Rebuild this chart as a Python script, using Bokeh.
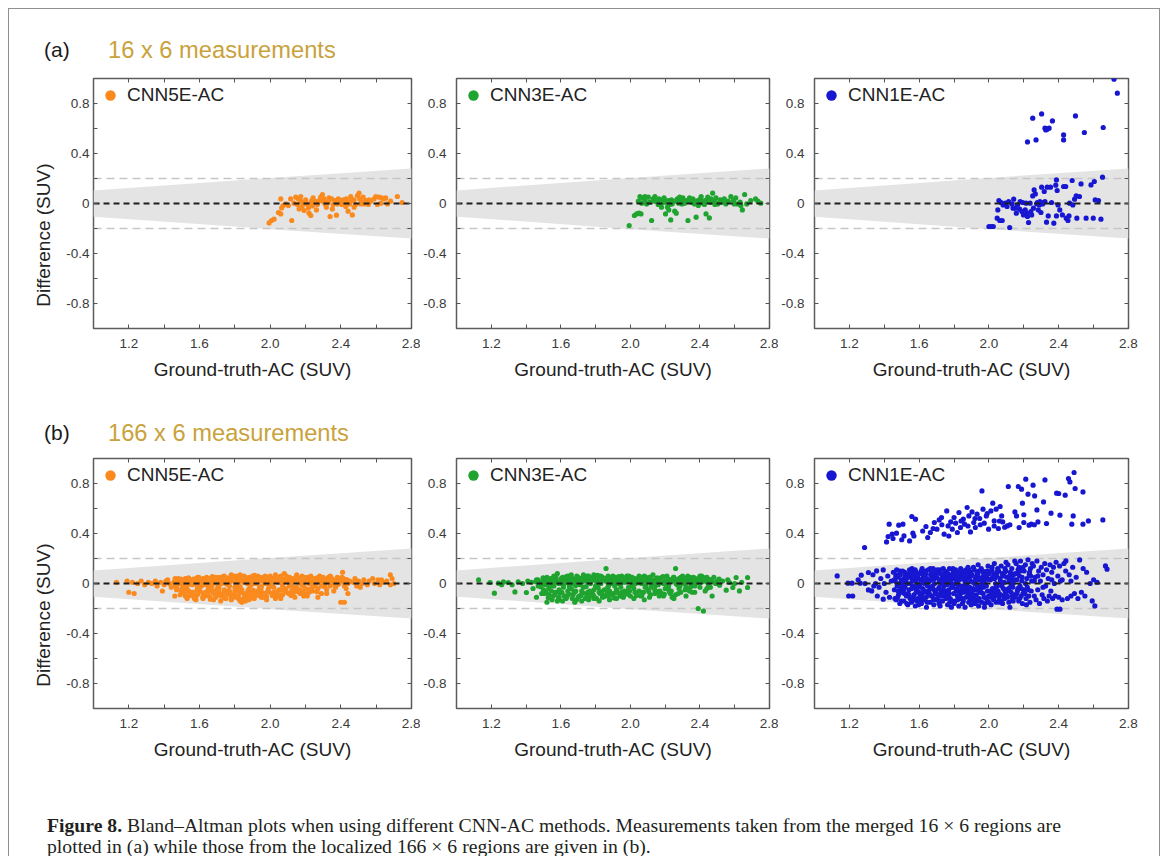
from bokeh.plotting import figure
from bokeh.layouts import row, column
from bokeh.models import FixedTicker, LinearAxis, Legend, LegendItem, Div, Range1d
from bokeh.embed import file_html
from bokeh.resources import INLINE

# ---------------- data ----------------
X_MIN, X_MAX = 1.0, 2.8
Y_MIN, Y_MAX = -1.0, 1.0
X_TICKS = [1.2, 1.6, 2.0, 2.4, 2.8]
X_TICK_LABELS = ["1.2", "1.6", "2.0", "2.4", "2.8"]
X_MINOR = [1.4, 1.8, 2.2, 2.6]
Y_TICKS = [-0.8, -0.4, 0, 0.4, 0.8]
Y_TICK_LABELS = ["-0.8", "-0.4", "0", "0.4", "0.8"]
Y_MINOR = [-0.6, -0.2, 0.2, 0.6]
X_LABEL = "Ground-truth-AC (SUV)"
Y_LABEL = "Difference (SUV)"
METHODS = ["CNN5E-AC", "CNN3E-AC", "CNN1E-AC"]
COLORS = ["#fa8a1e", "#1fa42f", "#1717d2"]
TITLES = ["16 x 6 measurements", "166 x 6 measurements"]
MEAN_DIFF = 0.0
LOA = [0.2, -0.2]
BAND_X = [1.0, 2.0, 2.8]
BAND_HI = [0.105, 0.205, 0.28]
BAND_LO = [-0.105, -0.205, -0.28]

top_cnn5 = [
(1.994,-0.155),(2.007,-0.136),(2.022,-0.125),(2.047,-0.072),(2.060,-0.083),(2.060,0.037),(2.073,-0.016),(2.065,-0.035),(2.103,-0.016),(2.122,-0.136),
(2.145,0.051),(2.160,0.037),(2.154,-0.008),(2.173,0.019),(2.179,-0.029),(2.192,-0.056),(2.186,-0.008),(2.201,0.029),(2.211,-0.003),(2.216,-0.035),
(2.220,-0.077),(2.230,-0.096),(2.235,0.024),(2.243,0.045),(2.254,0.003),(2.262,-0.051),(2.267,-0.008),(2.277,0.024),(2.286,0.051),(2.296,0.072),
(2.305,0.037),(2.311,-0.003),(2.318,-0.029),(2.330,0.019),(2.339,-0.104),(2.348,0.037),(2.356,-0.008),(2.367,0.024),(2.375,-0.093),(2.386,0.037),
(2.394,0.011),(2.405,-0.008),(2.413,0.029),(2.424,0.003),(2.431,0.037),(2.441,-0.061),(2.450,-0.003),(2.456,0.019),(2.465,-0.091),(2.475,0.029),
(2.484,-0.008),(2.494,0.064),(2.503,0.083),(2.507,0.037),(2.518,0.011),(2.526,0.051),(2.531,-0.003),(2.541,0.024),(2.556,-0.008),(2.569,0.019),
(2.588,0.037),(2.598,0.056),(2.607,-0.008),(2.616,0.051),(2.632,0.045),(2.645,0.037),(2.654,0.045),(2.664,-0.003),(2.720,0.056),(2.747,0.008),
(2.135,0.003),(2.198,0.008),(2.258,0.016),(2.324,0.005),(2.399,0.019),(2.437,0.008),(2.513,-0.003),(2.550,0.011),(2.626,0.003),(2.682,0.019),
(2.428,-0.024),(2.352,-0.043),(2.239,-0.019),(2.164,-0.043),(2.088,-0.003),(2.296,0.019),(2.380,-0.003),(2.475,-0.029),(2.560,0.029),(2.333,0.045),
(2.230,0.003),(2.173,0.056),(2.116,0.037),(2.456,0.056)]

top_cnn3 = [
(1.993,-0.176),(2.023,-0.096),(2.036,-0.083),(2.050,-0.077),(2.061,-0.083),(2.055,0.056),(2.069,0.045),(2.084,0.024),(2.093,-0.003),(2.103,0.051),
(2.122,-0.136),(2.131,0.037),(2.141,0.056),(2.150,0.019),(2.164,0.037),(2.175,0.003),(2.183,0.029),(2.194,0.045),(2.202,-0.083),(2.207,0.011),
(2.213,-0.029),(2.221,-0.051),(2.232,-0.131),(2.236,0.029),(2.245,0.019),(2.255,-0.061),(2.264,-0.077),(2.270,0.037),(2.278,0.003),(2.289,0.029),
(2.302,0.045),(2.312,0.003),(2.321,0.024),(2.331,-0.136),(2.340,0.045),(2.350,0.011),(2.359,0.037),(2.369,-0.003),(2.378,-0.109),(2.388,0.024),
(2.403,0.037),(2.416,0.003),(2.429,0.024),(2.435,-0.083),(2.445,0.051),(2.454,-0.115),(2.464,0.037),(2.473,0.083),(2.483,0.024),(2.492,0.045),
(2.502,-0.003),(2.517,0.029),(2.530,0.011),(2.549,-0.003),(2.578,0.056),(2.593,0.024),(2.606,0.045),(2.616,-0.003),(2.631,0.011),(2.644,-0.051),
(2.657,0.072),(2.669,-0.003),(2.720,0.037),(2.733,0.019),(2.750,0.003),
(2.065,0.003),(2.112,0.011),(2.160,-0.008),(2.188,0.008),(2.226,-0.008),(2.259,0.019),(2.297,-0.003),(2.331,0.019),(2.365,0.024),(2.397,0.008),
(2.426,-0.008),(2.460,0.008),(2.511,0.008),(2.563,0.019),(2.597,-0.003),(2.692,0.024),(2.217,0.024),(2.283,0.051),(2.407,0.056),(2.540,0.037),
(2.179,-0.029),(2.240,-0.003),(2.486,-0.008),(2.391,-0.016),(2.141,0.019),(2.308,0.024),(2.449,0.019),(2.635,-0.016),(2.046,0.019),(2.084,0.056)]

top_cnn1 = [
(2.717,0.995),(2.736,0.883),(2.251,0.683),(2.302,0.717),(2.364,0.661),(2.496,0.701),(2.321,0.603),(2.334,0.595),(2.345,0.603),(2.326,0.589),
(2.221,0.493),(2.270,0.509),(2.428,0.549),(2.428,0.509),(2.547,0.568),(2.655,0.608),
(2.000,-0.184),(2.013,-0.184),(2.025,-0.184),(2.119,-0.192),(2.051,-0.051),(2.057,0.024),(2.070,0.008),(2.081,-0.011),(2.047,-0.117),(2.062,-0.136),
(2.104,-0.024),(2.113,0.016),(2.132,-0.003),(2.142,0.035),(2.151,-0.037),(2.157,-0.077),(2.164,-0.011),(2.176,-0.045),(2.189,-0.064),(2.194,0.008),
(2.198,-0.091),(2.208,-0.051),(2.217,-0.077),(2.221,-0.104),(2.227,-0.152),(2.236,0.003),(2.240,-0.064),(2.245,-0.091),(2.251,0.061),(2.259,0.109),
(2.266,0.077),(2.274,-0.003),(2.277,0.008),(2.283,-0.051),(2.292,0.016),(2.302,0.131),(2.308,-0.003),(2.321,0.016),(2.334,0.131),(2.340,-0.099),
(2.330,-0.149),(2.353,0.131),(2.372,-0.157),(2.383,0.147),(2.387,0.189),(2.391,0.104),(2.396,-0.011),(2.387,-0.099),(2.421,-0.091),(2.428,0.136),
(2.440,0.136),(2.443,-0.117),(2.453,-0.136),(2.459,-0.099),(2.477,0.184),(2.481,-0.011),(2.491,0.035),(2.500,0.061),(2.504,-0.117),(2.528,0.157),
(2.557,-0.117),(2.585,0.149),(2.598,-0.117),(2.604,0.176),(2.609,0.029),(2.628,0.024),(2.642,-0.125),(2.651,0.211),
(2.179,0.016),(2.213,0.003),(2.289,-0.011),(2.311,0.008),(2.406,-0.051),(2.519,0.056),(2.462,0.003),(2.359,0.008),(2.138,-0.037),(2.094,0.003),
(2.076,-0.136),(2.255,-0.037),(2.298,-0.072),(2.317,0.096)]

bottom_cnn5 = [
(1.13,0.01),(1.19,0.02),(1.20,-0.07),(1.23,-0.08),(1.22,0.01),(1.25,0.0),(1.27,0.02),(1.29,-0.01),(1.31,0.01),(1.33,0.0),
(1.35,0.02),(1.36,-0.02),(1.38,0.01),(1.40,-0.01),(1.41,0.02),(1.43,0.0),(1.44,-0.03),(1.39,-0.06),(1.46,-0.1),(1.42,0.03),
(1.46,0.02),(1.47,-0.01),(1.48,0.03),(1.49,0.0),(1.47,-0.05),(1.49,-0.09),(1.50,0.01),(1.46,-0.02),(1.48,0.04),(1.50,-0.04),
(1.51,0.02),(1.52,-0.1),(1.53,0.0),(1.52,0.04),(1.54,-0.06),(1.55,0.03),(1.53,-0.12),(1.51,-0.02),(1.54,0.01),(1.55,-0.08),(1.52,-0.04),
(1.56,0.02),(1.57,-0.11),(1.58,0.04),(1.59,-0.03),(1.56,-0.07),(1.60,0.01),(1.58,-0.1),(1.57,0.0),(1.59,0.05),(1.60,-0.05),(1.56,-0.01),(1.58,-0.13),
(1.61,0.03),(1.62,-0.08),(1.63,0.0),(1.64,0.05),(1.62,-0.12),(1.65,-0.04),(1.61,-0.02),(1.63,-0.1),(1.64,0.02),(1.65,-0.07),(1.62,0.04),(1.66,0.01),
(1.66,-0.11),(1.67,0.03),(1.68,-0.06),(1.69,0.05),(1.67,-0.02),(1.70,0.0),(1.68,-0.13),(1.69,-0.09),(1.66,0.04),(1.70,-0.04),(1.68,0.02),
(1.71,0.05),(1.72,-0.1),(1.73,0.01),(1.74,-0.05),(1.72,0.03),(1.75,-0.12),(1.71,-0.02),(1.74,0.06),(1.73,-0.08),(1.75,0.0),(1.72,-0.14),(1.74,0.02),
(1.76,0.04),(1.77,-0.07),(1.78,0.07),(1.79,-0.11),(1.77,0.01),(1.80,-0.03),(1.78,-0.13),(1.79,0.05),(1.76,-0.01),(1.80,0.03),(1.77,-0.09),(1.78,0.02),(1.80,-0.06),
(1.81,0.06),(1.82,-0.12),(1.83,0.02),(1.84,-0.15),(1.82,0.04),(1.85,-0.08),(1.81,-0.03),(1.83,0.07),(1.84,-0.05),(1.85,0.01),(1.82,-0.1),(1.84,0.03),(1.83,-0.14),
(1.86,0.05),(1.87,-0.11),(1.88,0.03),(1.89,-0.07),(1.86,-0.14),(1.90,0.06),(1.87,0.0),(1.88,-0.04),(1.89,0.04),(1.90,-0.1),(1.86,0.02),(1.88,-0.13),
(1.91,0.04),(1.92,-0.09),(1.93,0.06),(1.94,-0.03),(1.91,-0.12),(1.95,0.02),(1.92,0.0),(1.93,-0.06),(1.94,0.05),(1.95,-0.11),(1.92,0.03),
(1.96,0.05),(1.97,-0.08),(1.98,0.02),(1.99,-0.04),(1.96,-0.11),(2.00,0.06),(1.97,0.0),(1.98,-0.13),(1.99,0.04),(2.00,-0.02),(1.97,0.03),
(2.01,0.04),(2.02,-0.07),(2.03,0.07),(2.04,-0.1),(2.01,0.01),(2.05,0.03),(2.02,-0.03),(2.03,-0.12),(2.04,0.05),(2.05,-0.05),(2.02,0.02),
(2.06,0.06),(2.07,-0.09),(2.08,0.02),(2.09,-0.04),(2.06,-0.12),(2.10,0.04),(2.07,0.0),(2.08,0.08),(2.09,-0.07),(2.10,0.01),(2.07,0.03),
(2.11,0.05),(2.12,-0.06),(2.13,0.02),(2.14,-0.11),(2.11,-0.02),(2.15,0.07),(2.12,0.03),(2.13,-0.08),(2.14,0.04),(2.15,-0.03),(2.12,0.0),
(2.16,0.04),(2.17,-0.05),(2.18,0.06),(2.19,-0.1),(2.16,0.01),(2.20,0.03),(2.17,-0.08),(2.18,-0.01),(2.19,0.05),(2.20,-0.04),(2.17,0.02),
(2.21,0.05),(2.22,-0.07),(2.23,0.02),(2.24,-0.03),(2.21,-0.1),(2.25,0.04),(2.22,0.0),(2.23,0.06),(2.24,-0.06),(2.25,0.01),
(2.26,0.04),(2.27,-0.04),(2.28,0.02),(2.29,-0.08),(2.26,0.0),(2.30,0.05),(2.27,-0.11),(2.28,0.06),(2.29,-0.02),(2.30,0.01),
(2.31,0.03),(2.32,-0.05),(2.33,0.05),(2.34,-0.02),(2.31,0.0),(2.35,0.03),(2.32,-0.08),(2.33,0.01),(2.34,0.06),
(2.36,0.02),(2.37,-0.03),(2.38,0.05),(2.39,0.0),(2.36,-0.06),(2.40,0.03),(2.37,0.01),(2.38,-0.01),(2.40,-0.15),(2.39,0.04),
(2.41,0.09),(2.42,-0.02),(2.43,0.03),(2.44,0.0),(2.41,0.02),(2.42,-0.15),(2.44,-0.08),(2.45,0.02),(2.43,-0.04),
(2.47,0.01),(2.49,-0.02),(2.50,0.02),(2.52,0.0),(2.53,0.03),(2.55,-0.01),(2.56,0.02),(2.58,0.04),(2.59,0.0),(2.61,0.03),
(2.62,-0.01),(2.64,0.01),(2.66,0.02),(2.68,0.07),(2.69,0.04),(2.68,-0.01),(2.70,0.0),(2.48,0.04),(2.51,-0.03),(2.63,0.03),
(1.455,0.01),(1.485,0.025),(1.515,0.005),(1.545,0.03),(1.575,0.015),(1.605,0.0),(1.635,0.035),(1.665,0.01),(1.695,0.025),(1.725,0.0),
(1.755,0.03),(1.785,0.045),(1.815,0.015),(1.845,0.05),(1.875,0.02),(1.905,0.0),(1.935,0.035),(1.965,0.015),(1.995,0.03),(2.025,0.045),
(2.055,0.01),(2.085,0.035),(2.115,0.02),(2.145,0.05),(2.175,0.0),(2.205,0.03),(2.235,0.015),(2.265,0.045),(2.295,0.02),(2.325,0.035),
(2.355,0.005),(2.385,0.025),(2.415,0.04),(2.445,0.015),
(1.47,-0.03),(1.53,-0.015),(1.59,-0.025),(1.65,-0.015),(1.71,-0.035),(1.77,-0.02),(1.83,-0.025),(1.89,-0.015),(1.95,-0.025),(2.01,-0.02),
(2.07,-0.015),(2.13,-0.03),(2.19,-0.02),(2.25,-0.015),(2.31,-0.025),(2.37,-0.02),
(1.462,0.04),(1.478,0.005),(1.494,0.035),(1.508,-0.01),(1.524,0.02),(1.538,0.045),(1.552,-0.005),(1.566,0.035),(1.582,0.015),(1.596,0.05),
(1.612,0.02),(1.626,-0.01),(1.642,0.04),(1.656,0.025),(1.672,0.055),(1.686,0.005),(1.702,0.04),(1.716,0.02),(1.732,0.055),(1.746,0.01),
(1.762,0.045),(1.776,0.025),(1.792,0.06),(1.806,0.0),(1.822,0.04),(1.836,0.02),(1.852,0.06),(1.866,0.01),(1.882,0.05),(1.896,0.025),
(1.912,0.065),(1.926,0.01),(1.942,0.045),(1.956,0.025),(1.972,0.06),(1.986,0.0),(2.002,0.04),(2.016,0.02),(2.032,0.055),(2.046,0.01),
(2.062,0.045),(2.076,0.025),(2.092,0.06),(2.106,0.0),(2.122,0.04),(2.136,0.015),(2.152,0.055),(2.166,0.03),(2.182,0.01),(2.196,0.045),
(2.212,0.02),(2.226,0.05),(2.242,0.005),(2.256,0.035),(2.272,0.015),(2.286,0.04),(2.302,0.0),(2.316,0.03),(2.332,0.02),(2.346,0.045),
(2.362,0.01),(2.376,0.035),(2.392,0.015),(2.406,0.05),(2.422,0.01),(2.436,0.03),
(1.505,-0.065),(1.545,-0.095),(1.585,-0.055),(1.625,-0.09),(1.665,-0.05),(1.705,-0.085),(1.745,-0.065),(1.785,-0.1),(1.825,-0.06),(1.865,-0.09),
(1.905,-0.055),(1.945,-0.085),(1.985,-0.065),(2.025,-0.09),(2.065,-0.05),(2.105,-0.08),(2.145,-0.06),(2.185,-0.07),(2.225,-0.045),(2.265,-0.065),
(1.495,-0.06),(1.518,-0.085),(1.532,-0.05),(1.558,-0.075),(1.571,-0.12),(1.59,-0.085),(1.603,-0.06),(1.618,-0.11),(1.633,-0.07),(1.648,-0.095),
(1.661,-0.125),(1.677,-0.075),(1.692,-0.11),(1.708,-0.06),(1.724,-0.09),(1.738,-0.115),(1.752,-0.08),(1.768,-0.055),(1.782,-0.12),(1.797,-0.085),
(1.812,-0.11),(1.828,-0.07),(1.843,-0.125),(1.858,-0.095),(1.873,-0.06),(1.888,-0.085),(1.903,-0.115),(1.918,-0.07),(1.934,-0.095),(1.949,-0.055),
(1.964,-0.085),(1.979,-0.105),(1.994,-0.07),(2.012,-0.095),(2.038,-0.065),(2.058,-0.09),(2.087,-0.06),(2.118,-0.095),(2.158,-0.065),(2.208,-0.08)]

bottom_cnn3 = [
(1.127,0.029),(1.193,0.008),(1.218,-0.077),(1.241,0.003),(1.27,0.013),(1.298,0.008),(1.336,-0.067),(1.355,0.013),(1.38,0.0),(1.402,-0.072),
(1.41,0.02),(1.32,-0.01),(1.43,0.01),(1.26,-0.01),(1.44,-0.04),
(1.46,0.03),(1.47,-0.02),(1.48,0.01),(1.49,-0.08),(1.50,0.04),(1.46,-0.11),(1.48,0.0),(1.50,-0.05),(1.47,0.02),
(1.51,-0.01),(1.52,0.05),(1.53,-0.09),(1.54,0.02),(1.55,-0.13),(1.51,0.03),(1.53,-0.04),(1.54,0.0),(1.52,-0.15),(1.55,0.04),
(1.56,0.06),(1.57,-0.07),(1.58,0.01),(1.59,-0.11),(1.56,-0.02),(1.60,0.03),(1.58,-0.14),(1.57,0.04),(1.59,-0.05),(1.60,0.0),(1.58,0.08),
(1.61,0.05),(1.62,-0.1),(1.63,0.02),(1.64,-0.06),(1.61,-0.14),(1.65,0.04),(1.62,0.0),(1.63,-0.12),(1.64,0.06),(1.65,-0.03),(1.62,0.03),
(1.66,0.07),(1.67,-0.09),(1.68,0.02),(1.69,-0.13),(1.66,-0.04),(1.70,0.05),(1.67,0.0),(1.68,-0.07),(1.69,0.03),(1.70,-0.11),(1.67,0.04),(1.68,-0.15),
(1.71,0.04),(1.72,-0.06),(1.73,0.07),(1.74,-0.12),(1.71,-0.01),(1.75,0.02),(1.72,-0.14),(1.73,-0.03),(1.74,0.05),(1.75,-0.08),(1.72,0.01),
(1.76,0.06),(1.77,-0.1),(1.78,0.03),(1.79,-0.05),(1.76,-0.13),(1.80,0.05),(1.77,0.0),(1.78,-0.08),(1.79,0.07),(1.80,-0.02),(1.77,0.02),(1.79,-0.12),
(1.81,0.04),(1.82,-0.07),(1.83,0.06),(1.84,-0.11),(1.81,-0.02),(1.85,0.03),(1.82,-0.14),(1.83,0.0),(1.84,0.05),(1.85,-0.05),(1.82,0.02),(1.84,-0.09),
(1.86,0.12),(1.87,0.04),(1.88,-0.06),(1.89,0.02),(1.86,-0.1),(1.90,0.06),(1.87,-0.03),(1.88,-0.13),(1.89,0.05),(1.90,-0.08),(1.87,0.01),(1.88,0.03),
(1.91,0.05),(1.92,-0.05),(1.93,0.02),(1.94,-0.1),(1.91,-0.02),(1.95,0.06),(1.92,-0.12),(1.93,0.0),(1.94,0.04),(1.95,-0.07),(1.92,0.03),
(1.96,0.04),(1.97,-0.08),(1.98,0.06),(1.99,-0.03),(1.96,-0.11),(2.00,0.02),(1.97,0.01),(1.98,-0.06),(1.99,0.05),(2.00,-0.1),(1.97,0.03),
(2.01,0.05),(2.02,-0.04),(2.03,0.02),(2.04,-0.09),(2.01,-0.01),(2.05,0.06),(2.02,-0.12),(2.03,0.0),(2.04,0.04),(2.05,-0.06),(2.02,0.03),
(2.06,0.04),(2.07,-0.07),(2.08,0.06),(2.09,-0.02),(2.06,-0.1),(2.10,0.03),(2.07,0.01),(2.08,-0.13),(2.09,0.05),(2.10,-0.05),(2.07,0.02),
(2.11,0.05),(2.12,-0.03),(2.13,0.02),(2.14,-0.08),(2.11,-0.11),(2.15,0.04),(2.12,0.0),(2.13,0.07),(2.14,-0.05),(2.15,0.01),
(2.16,0.03),(2.17,-0.06),(2.18,0.05),(2.19,-0.1),(2.16,-0.01),(2.20,0.02),(2.17,0.04),(2.18,-0.08),(2.19,0.0),(2.20,-0.04),
(2.21,0.06),(2.22,-0.05),(2.23,0.03),(2.24,-0.11),(2.21,0.0),(2.25,0.05),(2.22,-0.02),(2.23,-0.08),(2.24,0.02),(2.25,-0.12),
(2.26,0.12),(2.27,0.03),(2.28,-0.04),(2.29,0.05),(2.26,-0.09),(2.30,0.01),(2.27,-0.01),(2.28,0.04),(2.29,-0.07),(2.30,0.06),
(2.31,0.04),(2.32,-0.03),(2.33,0.06),(2.34,-0.06),(2.31,0.0),(2.35,0.03),(2.32,-0.1),(2.33,0.02),(2.34,0.05),(2.35,-0.01),
(2.36,0.05),(2.37,-0.02),(2.38,0.03),(2.39,-0.2),(2.36,0.0),(2.40,0.06),(2.37,-0.07),(2.38,0.01),(2.39,0.04),(2.40,-0.03),
(2.41,0.04),(2.42,-0.22),(2.43,0.02),(2.44,-0.04),(2.41,0.06),(2.45,0.0),(2.42,0.03),(2.43,-0.06),(2.44,0.05),(2.45,-0.02),
(2.46,0.03),(2.47,-0.1),(2.48,0.05),(2.49,0.0),(2.46,-0.03),(2.50,0.02),
(2.51,0.035),(2.513,-0.013),(2.53,0.02),(2.551,-0.053),(2.57,0.008),(2.589,-0.032),(2.608,0.048),(2.627,-0.059),(2.64,0.01),(2.674,0.048),
(2.674,-0.032),(2.56,0.03),(2.60,0.0),
(1.455,0.015),(1.505,0.025),(1.555,0.01),(1.605,0.035),(1.655,0.02),(1.705,0.0),(1.755,0.03),(1.805,0.015),(1.855,0.04),(1.905,0.01),
(1.955,0.025),(2.005,0.035),(2.055,0.005),(2.105,0.02),(2.155,0.045),(2.205,0.01),(2.255,0.03),(2.305,0.015),(2.355,0.025),(2.405,0.01),(2.455,0.02),
(1.485,-0.025),(1.545,-0.02),(1.615,-0.03),(1.685,-0.015),(1.745,-0.025),(1.815,-0.035),(1.875,-0.015),(1.945,-0.03),(2.015,-0.02),(2.085,-0.03),
(2.145,-0.015),(2.215,-0.025),(2.285,-0.02),(2.345,-0.03),
(1.468,0.03),(1.482,-0.005),(1.498,0.045),(1.512,0.015),(1.528,-0.01),(1.542,0.04),(1.558,0.02),(1.572,0.055),(1.588,0.0),(1.602,0.04),
(1.618,0.015),(1.632,0.055),(1.648,-0.005),(1.662,0.035),(1.678,0.02),(1.692,0.06),(1.708,0.005),(1.722,0.04),(1.738,0.02),(1.752,0.06),
(1.768,0.01),(1.782,0.045),(1.798,0.025),(1.812,0.065),(1.828,0.005),(1.842,0.04),(1.858,0.02),(1.872,0.06),(1.888,0.0),(1.902,0.04),
(1.918,0.02),(1.932,0.055),(1.948,0.005),(1.962,0.045),(1.978,0.02),(1.992,0.06),(2.008,0.01),(2.022,0.04),(2.038,0.02),(2.052,0.055),
(2.068,0.0),(2.082,0.04),(2.098,0.015),(2.112,0.05),(2.128,0.03),(2.142,0.005),(2.158,0.04),(2.172,0.02),(2.188,0.055),(2.202,0.005),
(2.218,0.035),(2.232,0.02),(2.248,0.05),(2.262,0.0),(2.278,0.03),(2.292,0.015),(2.308,0.045),(2.322,0.01),(2.338,0.035),(2.352,0.015),
(2.368,0.045),(2.382,0.005),(2.398,0.03),(2.412,0.015),(2.428,0.045),(2.442,0.01),(2.458,0.03),(2.472,0.015),
(1.515,-0.07),(1.555,-0.1),(1.595,-0.075),(1.635,-0.105),(1.675,-0.06),(1.715,-0.095),(1.755,-0.07),(1.795,-0.11),(1.835,-0.065),(1.875,-0.1),
(1.915,-0.075),(1.955,-0.105),(1.995,-0.06),(2.035,-0.095),(2.075,-0.07),(2.115,-0.09),(2.155,-0.065),(2.195,-0.085),(2.235,-0.06),(2.275,-0.08),
(2.315,-0.05),(2.355,-0.07),
(1.505,-0.08),(1.528,-0.115),(1.546,-0.06),(1.566,-0.09),(1.586,-0.125),(1.606,-0.07),(1.626,-0.1),(1.646,-0.085),(1.666,-0.12),(1.686,-0.06),
(1.706,-0.1),(1.726,-0.075),(1.746,-0.11),(1.766,-0.06),(1.786,-0.09),(1.806,-0.12),(1.826,-0.08),(1.846,-0.105),(1.866,-0.065),(1.886,-0.09),
(1.906,-0.115),(1.926,-0.07),(1.946,-0.09),(1.966,-0.06),(1.986,-0.085),(2.026,-0.07),(2.066,-0.095),(2.106,-0.065),(2.166,-0.1),(2.226,-0.07)]

bottom_cnn1 = [
(1.287,0.288),(1.413,0.333),(1.422,0.376),(1.428,0.475),(1.445,0.395),(1.47,0.403),(1.483,0.467),(1.507,0.475),(1.513,0.381),(1.545,0.341),
(1.564,0.403),(1.558,0.536),(1.579,0.515),(1.639,0.456),(1.649,0.368),(1.664,0.408),(1.687,0.488),(1.702,0.435),(1.715,0.509),(1.728,0.528),
(1.743,0.395),(1.758,0.581),(1.766,0.461),(1.781,0.493),(1.79,0.435),(1.8,0.528),(1.809,0.483),(1.819,0.408),(1.828,0.568),(1.837,0.448),
(1.853,0.515),(1.86,0.475),(1.875,0.608),(1.885,0.541),(1.894,0.413),(1.903,0.573),(1.913,0.488),(1.922,0.448),(1.932,0.555),(1.947,0.52),
(1.96,0.741),(1.966,0.595),(1.973,0.483),(1.985,0.541),(1.998,0.435),(2.011,0.581),(2.022,0.643),(2.03,0.501),(2.041,0.595),(2.054,0.44),
(2.064,0.616),(2.073,0.541),(2.079,0.493),(2.105,0.461),(2.111,0.776),(2.149,0.573),(2.158,0.541),(2.168,0.776),(2.173,0.448),(2.187,0.755),
(2.192,0.643),(2.2,0.488),(2.211,0.835),(2.224,0.715),(2.23,0.467),(2.243,0.475),(2.253,0.787),(2.262,0.701),(2.275,0.589),(2.281,0.493),
(2.321,0.829),(2.313,0.653),(2.356,0.563),(2.388,0.723),(2.407,0.547),(2.437,0.707),(2.456,0.84),(2.464,0.813),(2.475,0.475),(2.483,0.541),
(2.488,0.888),(2.494,0.76),(2.539,0.733),(2.539,0.475),(2.57,0.501),(2.653,0.509),
(1.62,0.42),(1.68,0.44),(1.73,0.47),(1.77,0.38),(1.84,0.5),(1.88,0.46),(1.92,0.52),(1.95,0.47),(1.99,0.56),(2.03,0.46),
(2.06,0.5),(2.09,0.45),(1.57,0.38),(1.5,0.35),(1.45,0.36),(2.12,0.47),(2.2,0.55),(2.26,0.47),(2.33,0.48),(2.4,0.72),
(1.13,0.061),(1.192,0.003),(1.215,0.003),(1.196,-0.1),(1.219,-0.1),(1.262,0.003),(1.268,0.067),(1.29,0.0),(1.309,0.088),(1.309,-0.051),
(1.328,-0.059),(1.335,0.07),(1.35,0.0),(1.356,0.101),(1.37,-0.03),(1.38,0.04),(1.394,0.109),(1.394,-0.125),(1.40,0.0),(1.41,-0.07),
(1.42,0.06),(1.43,-0.11),(1.44,0.02),(1.36,-0.1),(1.25,0.03),(1.34,-0.02),
(1.452,0.09),(1.458,-0.05),(1.463,0.02),(1.468,-0.13),(1.471,0.11),(1.474,-0.02),(1.478,0.05),(1.482,-0.09),(1.486,0.0),(1.489,-0.16),
(1.492,0.07),(1.495,-0.04),(1.498,0.03),(1.476,-0.11),(1.466,0.06),
(1.502,-0.07),(1.505,0.1),(1.508,0.01),(1.512,-0.14),(1.515,0.04),(1.519,-0.03),(1.523,0.08),(1.527,-0.1),(1.531,0.0),(1.535,-0.17),
(1.538,0.06),(1.542,-0.05),(1.545,0.11),(1.548,-0.12),(1.525,0.03),(1.515,-0.08),
(1.552,0.05),(1.556,-0.15),(1.559,0.12),(1.563,-0.02),(1.567,0.07),(1.571,-0.09),(1.574,0.02),(1.578,-0.18),(1.582,0.09),(1.585,-0.05),
(1.589,0.0),(1.593,-0.12),(1.596,0.04),(1.599,-0.07),(1.565,0.1),(1.588,-0.14),(1.575,-0.03),
(1.602,0.08),(1.606,-0.1),(1.609,0.03),(1.613,-0.16),(1.617,0.12),(1.62,-0.04),(1.624,0.06),(1.628,-0.13),(1.631,0.0),(1.635,-0.07),
(1.638,0.1),(1.642,-0.19),(1.645,0.04),(1.648,-0.02),(1.615,-0.08),(1.633,0.07),(1.622,0.01),(1.64,-0.11),
(1.652,0.11),(1.655,-0.06),(1.659,0.02),(1.663,-0.15),(1.666,0.07),(1.67,-0.1),(1.673,0.04),(1.677,-0.02),(1.68,0.12),(1.684,-0.17),
(1.688,0.0),(1.691,-0.08),(1.695,0.09),(1.698,-0.13),(1.662,-0.03),(1.675,0.06),(1.686,-0.05),(1.669,0.1),
(1.702,0.05),(1.705,-0.12),(1.709,0.1),(1.712,-0.04),(1.716,0.02),(1.72,-0.18),(1.723,0.08),(1.727,-0.07),(1.731,0.0),(1.734,-0.14),
(1.738,0.12),(1.741,-0.02),(1.745,0.06),(1.748,-0.1),(1.714,-0.16),(1.729,0.04),(1.736,-0.06),(1.718,0.11),(1.743,0.02),
(1.752,-0.09),(1.756,0.09),(1.759,-0.01),(1.763,-0.17),(1.767,0.05),(1.77,-0.05),(1.774,0.12),(1.778,-0.12),(1.781,0.02),(1.785,-0.19),
(1.788,0.07),(1.792,-0.03),(1.795,0.1),(1.798,-0.08),(1.761,0.03),(1.776,-0.15),(1.783,0.0),(1.79,0.04),(1.768,-0.11),
(1.802,0.06),(1.805,-0.14),(1.809,0.11),(1.812,-0.06),(1.816,0.01),(1.82,-0.1),(1.823,0.08),(1.827,-0.18),(1.831,0.03),(1.834,-0.02),
(1.838,0.12),(1.841,-0.12),(1.845,0.05),(1.848,-0.16),(1.814,-0.04),(1.829,0.09),(1.836,-0.08),(1.818,0.0),(1.843,-0.05),
(1.852,0.1),(1.855,-0.07),(1.859,0.03),(1.863,-0.19),(1.866,0.06),(1.87,-0.11),(1.873,0.0),(1.877,-0.04),(1.88,0.13),(1.884,-0.15),
(1.888,0.05),(1.891,-0.09),(1.895,0.02),(1.898,-0.17),(1.861,-0.02),(1.875,0.08),(1.886,-0.06),(1.869,0.11),(1.893,-0.12),
(1.902,0.07),(1.905,-0.13),(1.909,0.01),(1.912,-0.05),(1.916,0.11),(1.92,-0.16),(1.923,0.04),(1.927,-0.09),(1.931,0.09),(1.934,-0.02),
(1.938,0.15),(1.941,-0.18),(1.945,0.03),(1.948,-0.07),(1.914,-0.11),(1.929,0.06),(1.936,-0.14),(1.918,0.0),(1.943,0.1),
(1.952,-0.04),(1.956,0.12),(1.959,-0.15),(1.963,0.05),(1.967,-0.08),(1.97,0.02),(1.974,-0.19),(1.978,0.09),(1.981,-0.01),(1.985,-0.12),
(1.988,0.06),(1.992,-0.06),(1.995,0.14),(1.998,-0.1),(1.961,0.0),(1.976,-0.16),(1.983,0.04),(1.99,0.1),(1.968,-0.03),
(2.002,0.08),(2.005,-0.11),(2.009,0.03),(2.012,-0.17),(2.016,0.11),(2.02,-0.04),(2.023,0.05),(2.027,-0.13),(2.031,0.16),(2.034,-0.07),
(2.038,0.0),(2.041,-0.15),(2.045,0.09),(2.048,-0.02),(2.014,-0.09),(2.029,0.07),(2.036,-0.1),(2.018,0.13),
(2.052,-0.06),(2.056,0.1),(2.059,-0.13),(2.063,0.04),(2.067,-0.09),(2.07,0.14),(2.074,-0.02),(2.078,-0.16),(2.081,0.06),(2.085,-0.1),
(2.088,0.01),(2.092,0.12),(2.095,-0.07),(2.098,0.17),(2.061,-0.15),(2.076,0.08),(2.083,-0.04),(2.09,-0.12),
(2.102,0.05),(2.105,-0.1),(2.109,0.15),(2.112,-0.04),(2.116,0.02),(2.12,-0.19),(2.123,0.09),(2.127,-0.07),(2.131,0.12),(2.134,-0.13),
(2.138,0.0),(2.141,0.07),(2.145,-0.09),(2.148,0.18),(2.114,-0.15),(2.129,0.04),(2.136,-0.03),
(2.152,-0.11),(2.156,0.16),(2.159,0.03),(2.163,-0.06),(2.167,0.11),(2.17,-0.14),(2.174,0.06),(2.178,-0.02),(2.181,0.18),(2.185,-0.1),
(2.188,0.02),(2.192,-0.16),(2.195,0.13),(2.198,-0.05),(2.165,0.08),(2.176,-0.12),(2.19,0.05),
(2.202,0.1),(2.206,-0.08),(2.209,0.15),(2.213,-0.12),(2.217,0.04),(2.22,-0.03),(2.224,0.19),(2.228,-0.1),(2.231,0.07),(2.235,-0.15),
(2.238,0.12),(2.242,-0.06),(2.245,0.02),(2.248,0.16),(2.215,-0.17),(2.233,0.09),
(2.255,0.14),(2.26,-0.1),(2.265,0.05),(2.27,-0.13),(2.275,0.18),(2.28,-0.05),(2.285,0.1),(2.29,-0.16),(2.295,0.02),(2.3,0.13),
(2.305,-0.09),(2.31,0.07),(2.315,-0.12),(2.32,0.16),(2.325,-0.02),(2.33,0.11),(2.335,-0.14),(2.34,0.04),(2.345,-0.1),(2.35,0.15),
(2.355,-0.06),(2.36,0.09),(2.365,-0.12),(2.37,0.13),(2.375,0.0),(2.38,-0.1),(2.385,0.17),(2.39,-0.205),(2.395,0.06),(2.4,-0.11),
(2.405,0.14),(2.407,-0.205),(2.41,0.02),(2.42,-0.13),(2.43,0.16),(2.44,0.1),(2.441,0.181),(2.45,-0.12),(2.46,0.07),(2.47,-0.1),
(2.48,0.13),(2.49,-0.08),(2.5,0.05),(2.51,-0.12),(2.52,0.189),(2.53,-0.07),(2.54,0.12),(2.55,-0.1),(2.56,0.09),(2.58,0.0),
(2.592,-0.139),(2.607,-0.179),(2.6,0.03),(2.62,0.01),(2.668,0.141),(2.677,0.115),(2.42,0.03),(2.47,0.02),(2.36,0.03),(2.31,-0.03),
(2.28,0.06),(2.26,0.02),
(1.505,-0.02),(1.52,0.06),(1.535,-0.08),(1.55,0.0),(1.565,-0.11),(1.58,0.05),(1.595,-0.03),(1.61,-0.13),(1.625,0.09),(1.64,0.0),
(1.655,-0.09),(1.67,0.03),(1.685,-0.12),(1.70,0.08),(1.715,-0.03),(1.73,-0.1),(1.745,0.05),(1.76,-0.06),(1.775,0.03),(1.79,-0.14),
(1.805,0.04),(1.82,-0.06),(1.835,0.07),(1.85,-0.12),(1.865,0.01),(1.88,-0.08),(1.895,0.09),(1.91,-0.04),(1.925,-0.13),(1.94,0.05),
(1.955,-0.07),(1.97,0.08),(1.985,-0.02),(2.00,-0.15),(2.015,0.04),(2.03,-0.06),(2.045,0.06),(2.06,-0.1),(2.075,0.0),(2.09,0.09),
(2.105,-0.06),(2.12,0.03),(2.135,-0.1),(2.15,0.08),(2.165,-0.04),(2.18,0.1),(2.195,-0.08),(2.21,0.0),(2.225,-0.05),(2.24,0.06),
(1.457,0.03),(1.461,-0.12),(1.47,0.07),(1.48,-0.06),(1.49,0.1),(1.497,-0.14),(1.503,0.02),(1.511,-0.05),(1.518,0.09),(1.529,-0.16),
(1.533,0.05),(1.541,-0.09),(1.549,0.08),(1.557,-0.04),(1.561,0.03),(1.569,-0.13),(1.577,0.11),(1.583,-0.07),(1.591,0.06),(1.597,-0.17),
(1.604,-0.01),(1.611,0.1),(1.619,-0.11),(1.626,0.04),(1.632,-0.06),(1.639,0.08),(1.646,-0.15),(1.651,0.02),(1.658,-0.08),(1.664,0.12),
(1.671,-0.04),(1.678,0.07),(1.683,-0.13),(1.689,0.04),(1.697,-0.06),(1.704,0.11),(1.71,-0.09),(1.717,0.01),(1.725,-0.14),(1.732,0.07),
(1.739,-0.05),(1.747,0.1),(1.754,-0.12),(1.758,0.0),(1.766,0.08),(1.772,-0.08),(1.779,0.05),(1.786,-0.03),(1.794,0.12),(1.8,-0.16),
(1.807,0.0),(1.813,0.09),(1.821,-0.13),(1.826,0.05),(1.833,-0.09),(1.84,0.1),(1.846,-0.02),(1.853,-0.14),(1.858,0.07),(1.867,-0.05),
(1.872,0.04),(1.879,-0.1),(1.885,0.11),(1.89,-0.03),(1.897,0.06),(1.904,-0.08),(1.911,0.13),(1.917,-0.15),(1.924,0.02),(1.93,-0.05),
(1.937,0.08),(1.944,-0.12),(1.95,0.04),(1.958,-0.02),(1.965,0.1),(1.972,-0.11),(1.979,0.0),(1.986,0.07),(1.993,-0.15),(2.001,0.03),
(2.008,-0.06),(2.017,0.1),(2.025,-0.12),(2.033,0.04),(2.04,-0.03),(2.05,0.12),(2.058,-0.08),(2.066,0.02),(2.073,-0.14),(2.08,0.07),
(2.089,-0.05),(2.097,0.1),(2.106,-0.11),(2.118,0.06),(2.126,-0.02),(2.139,-0.14),(2.147,0.03),(2.16,-0.08),(2.172,0.13),(2.184,-0.04)]

ROWS = [[top_cnn5, top_cnn3, top_cnn1], [bottom_cnn5, bottom_cnn3, bottom_cnn1]]
CAPTION_BOLD = "Figure 8."
CAPTION_LINE1 = "Bland–Altman plots when using different CNN-AC methods. Measurements taken from the merged 16 × 6 regions are"
CAPTION_LINE2 = "plotted in (a) while those from the localized 166 × 6 regions are given in (b)."

# ---------------- styling ----------------
SANS = "Liberation Sans"
FIG_W = [411, 358, 381]
BORDER_L = [84, 33, 32]
BORDER_R = [9, 9, 31]
TICK_STANDOFF = [4, 10, 10]
FIG_H = 322
NBSP = "\u00a0"


def style_axis(ax, ticks, minor, labels, show_labels=True, standoff=7):
    ax.ticker = FixedTicker(ticks=ticks, minor_ticks=minor)
    ax.axis_line_color = None
    ax.major_tick_in = 4
    ax.major_tick_out = 0
    ax.minor_tick_in = 4
    ax.minor_tick_out = 0
    ax.major_tick_line_color = "#555555"
    ax.minor_tick_line_color = "#555555"
    ax.major_tick_line_width = 1
    ax.minor_tick_line_width = 1
    if show_labels:
        ax.major_label_overrides = {t: l for t, l in zip(ticks, labels)}
        ax.major_label_text_font = SANS
        ax.major_label_text_font_size = "13.5px"
        ax.major_label_text_color = "#3a3a3a"
        ax.major_label_standoff = standoff
    else:
        ax.major_label_overrides = {t: "" for t in ticks}
        ax.major_label_text_font_size = "0px"
        ax.major_label_standoff = 0


def make_panel(pts, k):
    p = figure(width=FIG_W[k], height=FIG_H,
               x_range=Range1d(X_MIN, X_MAX), y_range=Range1d(Y_MIN, Y_MAX),
               output_backend="svg", toolbar_location=None,
               min_border_left=BORDER_L[k], min_border_right=BORDER_R[k],
               min_border_top=10, min_border_bottom=62,
               background_fill_color="white", border_fill_color="white",
               outline_line_color="#5c5c5c", outline_line_width=1.5)
    p.xgrid.visible = False
    p.ygrid.visible = False
    xs = [a for a, b in pts]
    ys = [b for a, b in pts]
    p.varea(x=BAND_X, y1=BAND_LO, y2=BAND_HI, fill_color="#e4e4e4", fill_alpha=1.0)
    for loa in LOA:
        p.line([X_MIN, X_MAX], [loa, loa], line_color="#c6c6c6", line_dash="8 5", line_width=1.5)
    r = p.scatter(xs, ys, size=5.2, fill_color=COLORS[k], line_color=None)
    p.line([X_MIN, X_MAX], [MEAN_DIFF, MEAN_DIFF], line_color="#1e1e1e", line_dash="6 4", line_width=2)

    xa = p.xaxis[0]
    style_axis(xa, X_TICKS, X_MINOR, X_TICK_LABELS, True, 10)
    xa.axis_label = X_LABEL
    xa.axis_label_text_font = SANS
    xa.axis_label_text_font_size = "19px"
    xa.axis_label_text_font_style = "normal"
    xa.axis_label_text_color = "#222222"
    xa.axis_label_standoff = 8

    ya = p.yaxis[0]
    style_axis(ya, Y_TICKS, Y_MINOR, Y_TICK_LABELS, True, TICK_STANDOFF[k])
    if k == 0:
        # the label sits a little below the frame centre in the original figure
        ya.axis_label = Y_LABEL + NBSP * 12
        ya.axis_label_text_font = SANS
        ya.axis_label_text_font_size = "19px"
        ya.axis_label_text_font_style = "normal"
        ya.axis_label_text_color = "#222222"
        ya.axis_label_standoff = 9

    top = LinearAxis()
    style_axis(top, X_TICKS, X_MINOR, X_TICK_LABELS, False)
    p.add_layout(top, "above")
    right = LinearAxis()
    style_axis(right, Y_TICKS, Y_MINOR, Y_TICK_LABELS, False)
    p.add_layout(right, "right")

    leg = Legend(items=[LegendItem(label=METHODS[k], renderers=[r])],
                 location="top_left", margin=4, padding=5,
                 glyph_width=26, glyph_height=26, label_standoff=4,
                 label_text_font=SANS, label_text_font_size="19px",
                 label_text_color="#222222",
                 border_line_color=None, background_fill_color=None)
    p.add_layout(leg)
    return p


def title_div(letter, title, height, cy):
    html = (
        f'<div style="position:relative;width:1150px;height:{height}px;font-family:\'{SANS}\';">'
        f'<span style="position:absolute;left:35px;top:{cy-12}px;line-height:24px;font-size:21px;color:#1a1a1a;white-space:nowrap;">{letter}</span>'
        f'<span style="position:absolute;left:99px;top:{cy-14}px;line-height:28px;font-size:23.7px;color:#c9a23c;white-space:nowrap;">{title}</span>'
        '</div>')
    return Div(text=html, width=1150, height=height, margin=0)


BORDER = "#8f8f8f"
def bar(w, h):
    return Div(text="", width=w, height=h, margin=0, styles={"background-color": BORDER})

rows = []
for ri, data in enumerate(ROWS):
    rows.append(row([make_panel(pts, k) for k, pts in enumerate(data)], spacing=0, margin=0))

caption_html = (
    '<div style="position:relative;width:1150px;height:86px;">'
    '<div style="position:absolute;left:38px;top:45px;font-family:\'Liberation Serif\';font-size:19.7px;'
    'line-height:21px;color:#231f20;white-space:nowrap;">'
    f'<b>{CAPTION_BOLD}</b> {CAPTION_LINE1}<br>{CAPTION_LINE2}'
    '</div></div>')
caption = Div(text=caption_html, width=1150, height=86, margin=0)

inner = column([bar(1150, 1), title_div("(a)", TITLES[0], 59, 41), rows[0],
                title_div("(b)", TITLES[1], 58, 43), rows[1], caption], spacing=0, margin=0)
page = row([bar(1, 848), inner, bar(1, 848)], spacing=0, margin=(8, 0, 0, 8))

open("out.html", "w").write(file_html(page, INLINE))
